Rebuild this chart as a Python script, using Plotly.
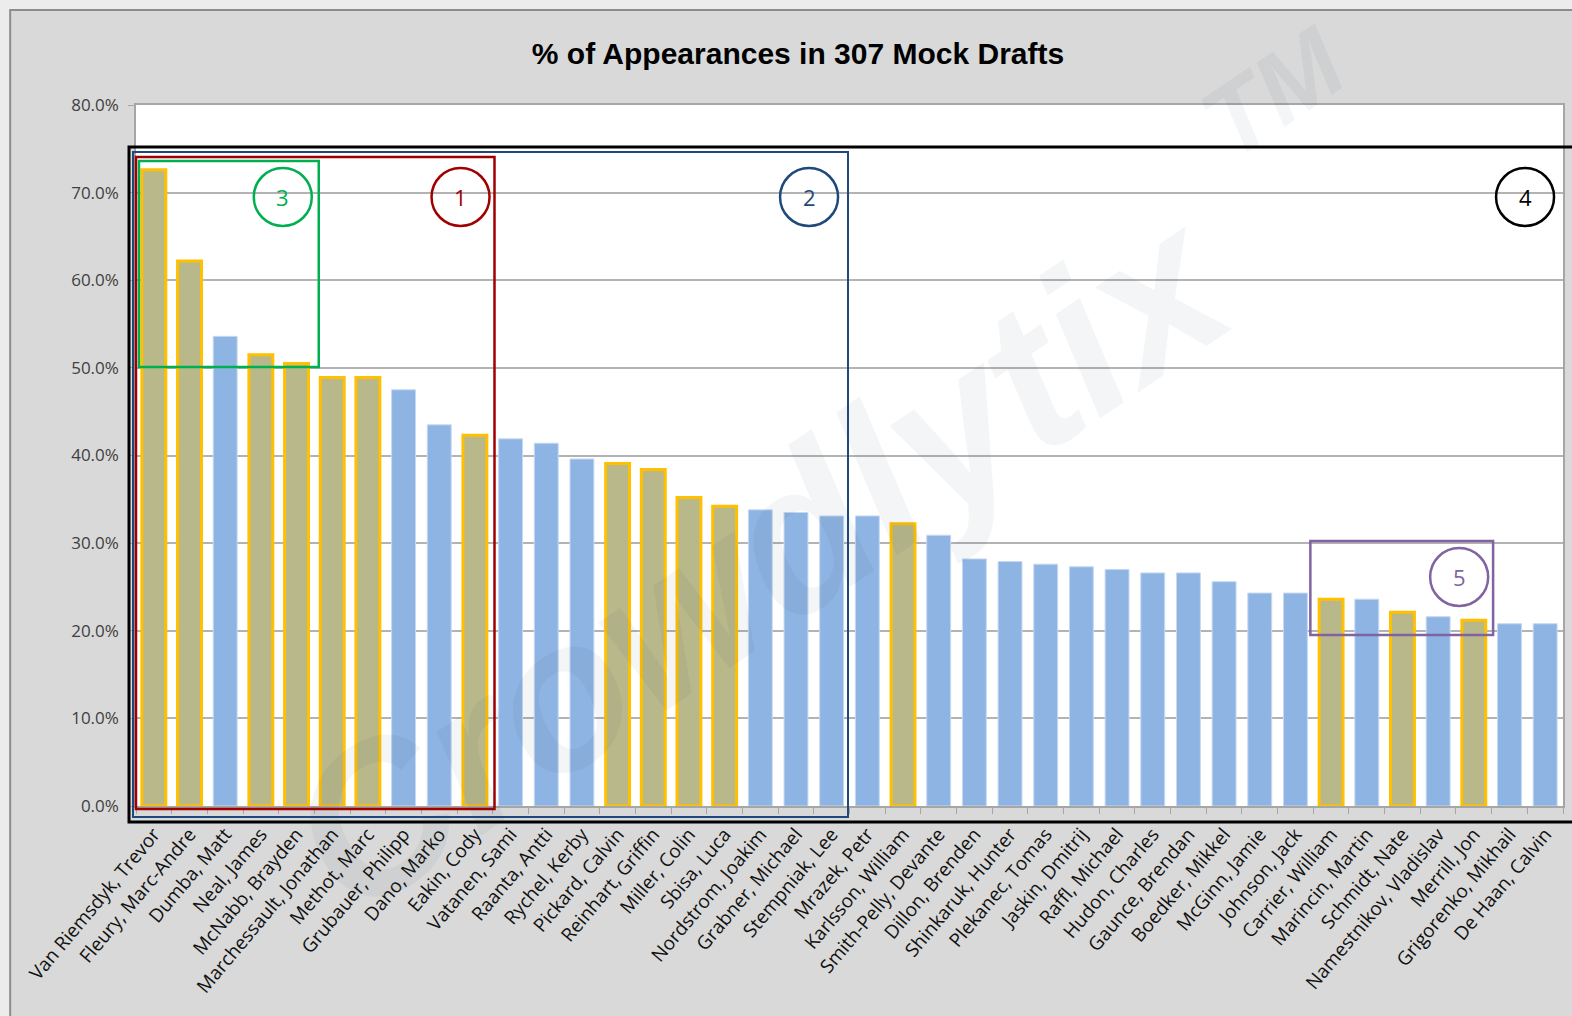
import plotly.graph_objects as go

# ---------------- data ----------------
players = [
    "Van Riemsdyk, Trevor", "Fleury, Marc-Andre", "Dumba, Matt", "Neal, James",
    "McNabb, Brayden", "Marchessault, Jonathan", "Methot, Marc", "Grubauer, Philipp",
    "Dano, Marko", "Eakin, Cody", "Vatanen, Sami", "Raanta, Antti", "Rychel, Kerby",
    "Pickard, Calvin", "Reinhart, Griffin", "Miller, Colin", "Sbisa, Luca",
    "Nordstrom, Joakim", "Grabner, Michael", "Stempniak, Lee", "Mrazek, Petr",
    "Karlsson, William", "Smith-Pelly, Devante", "Dillon, Brenden", "Shinkaruk, Hunter",
    "Plekanec, Tomas", "Jaskin, Dmitrij", "Raffl, Michael", "Hudon, Charles",
    "Gaunce, Brendan", "Boedker, Mikkel", "McGinn, Jamie", "Johnson, Jack",
    "Carrier, William", "Marincin, Martin", "Schmidt, Nate", "Namestnikov, Vladislav",
    "Merrill, Jon", "Grigorenko, Mikhail", "De Haan, Calvin",
]
pct_appearances = [
    72.6, 62.2, 53.6, 51.5, 50.5, 48.9, 48.9, 47.5, 43.5, 42.3,
    41.9, 41.4, 39.6, 39.1, 38.4, 35.2, 34.2, 33.8, 33.5, 33.1,
    33.1, 32.2, 30.9, 28.2, 27.9, 27.6, 27.3, 27.0, 26.6, 26.6,
    25.6, 24.3, 24.3, 23.6, 23.6, 22.1, 21.6, 21.2, 20.8, 20.8,
]
highlighted = [
    1, 1, 0, 1, 1, 1, 1, 0, 0, 1,
    0, 0, 0, 1, 1, 1, 1, 0, 0, 0,
    0, 1, 0, 0, 0, 0, 0, 0, 0, 0,
    0, 0, 0, 1, 0, 1, 0, 1, 0, 0,
]
y_ticks = [0, 0.1, 0.2, 0.3, 0.4, 0.5, 0.6, 0.7, 0.8]

# ---------------- styles ----------------
BLUE = "#8eb4e3"
TAN = "#b8b88b"
GOLD = "#ffc000"
W, H = 1572, 1016
PL, PR, PT, PB = 136, 1565, 105, 806


def fx(p):
    return (p - PL) / (PR - PL)


def fy(p):
    return (PB - p) / (PB - PT)


fig = go.Figure()
fig.add_bar(
    x=players,
    y=[v / 100 for v in pct_appearances],
    marker=dict(
        color=[TAN if h else BLUE for h in highlighted],
        line=dict(
            color=[GOLD if h else "#c6d9f1" for h in highlighted],
            width=[3 if h else 1 for h in highlighted],
        ),
    ),
    hovertemplate="%{x}: %{y:.1%}<extra></extra>",
)

shapes = []
# outer chart frame
shapes.append(dict(type="rect", xref="paper", yref="paper", layer="below",
                   x0=fx(10), x1=fx(1640), y0=fy(1080), y1=fy(10),
                   fillcolor="#d9d9d9", line=dict(color="#8c8c8c", width=2)))
# white plot area
shapes.append(dict(type="rect", xref="paper", yref="paper", layer="below",
                   x0=0, x1=1, y0=0, y1=1, fillcolor="#ffffff", line=dict(width=0)))

# annotation boxes (pixel-derived positions)
boxes = [
    (129, 147, 1600, 822, "#000000", 3),
    (133, 152, 849, 817, "#1f497d", 2),
    (136, 157, 495, 809, "#a00000", 2.5),
    (139, 161, 319, 367, "#00b050", 2.5),
    (1312, 541, 1495, 635, "#8064a2", 2.5),
]
for x0, y0, x1, y1, c, w in boxes:
    shapes.append(dict(type="rect", xref="paper", yref="paper",
                       x0=fx(x0), x1=fx(x1), y0=fy(y1), y1=fy(y0),
                       line=dict(color=c, width=w), fillcolor="rgba(0,0,0,0)"))

circles = [
    ("3", 283, 197, "#00b050"),
    ("1", 461, 197, "#a00000"),
    ("2", 810, 197, "#1f497d"),
    ("4", 1527, 197, "#000000"),
    ("5", 1461, 577, "#8064a2"),
]
annotations = []
for label, cx, cy, c in circles:
    shapes.append(dict(type="circle", xref="paper", yref="paper",
                       xsizemode="pixel", ysizemode="pixel",
                       xanchor=fx(cx), yanchor=fy(cy),
                       x0=-29, x1=29, y0=-29, y1=29,
                       line=dict(color=c, width=2.5), fillcolor="rgba(0,0,0,0)"))
    annotations.append(dict(text=label, xref="paper", yref="paper",
                            x=fx(cx), y=fy(cy), showarrow=False,
                            xanchor="center", yanchor="middle",
                            font=dict(family="Open Sans, sans-serif", size=22, color=c)))

# watermark
annotations.append(dict(text="Crowdlytix", xref="paper", yref="paper",
                        x=fx(760), y=fy(560), showarrow=False, textangle=-34,
                        xanchor="center", yanchor="middle",
                        font=dict(family="Liberation Sans, sans-serif",
                                  size=210, weight="bold", style="italic",
                                  color="rgba(40,55,80,0.05)")))
annotations.append(dict(text="TM", xref="paper", yref="paper",
                        x=fx(1275), y=fy(92), showarrow=False, textangle=-34,
                        xanchor="center", yanchor="middle",
                        font=dict(family="Liberation Sans, sans-serif",
                                  size=100, weight="bold", style="italic",
                                  color="rgba(40,55,80,0.05)")))

fig.update_layout(
    width=W, height=H,
    margin=dict(l=PL, r=W - PR, t=PT, b=H - PB, pad=0),
    paper_bgcolor="#ececec",
    plot_bgcolor="#ffffff",
    bargap=0.33,
    showlegend=False,
    title=dict(text="<b>% of Appearances in 307 Mock Drafts</b>",
               x=798 / W, xref="container", xanchor="center",
               y=1 - 53 / H, yref="container", yanchor="middle",
               font=dict(family="Liberation Sans, sans-serif",
                         size=30, color="#000000")),
    shapes=shapes,
    annotations=annotations,
    xaxis=dict(
        type="category", tickson="boundaries", ticks="outside", ticklen=6,
        tickcolor="#a6a6a6", showline=True, linecolor="#a6a6a6", linewidth=1.5,
        mirror=True, showgrid=False, tickangle=-50, ticklabelstandoff=8,
        tickfont=dict(family="Open Sans, sans-serif", size=19, color="#111111"),
        range=[-0.5, len(players) - 0.5],
    ),
    yaxis=dict(
        range=[0, 0.8], tickvals=y_ticks, tickformat=".1%",
        showgrid=True, gridcolor="#b3b3b3", gridwidth=1.5,
        showline=True, linecolor="#a6a6a6", linewidth=1.5, mirror=True,
        ticks="outside", ticklen=6, tickcolor="#a6a6a6", zeroline=False,
        ticklabelstandoff=6,
        tickfont=dict(family="Open Sans, sans-serif", size=17, color="#404040"),
    ),
)

fig.write_html("out.html", config={"displayModeBar": False},
               post_script="document.body.style.margin='0';")
